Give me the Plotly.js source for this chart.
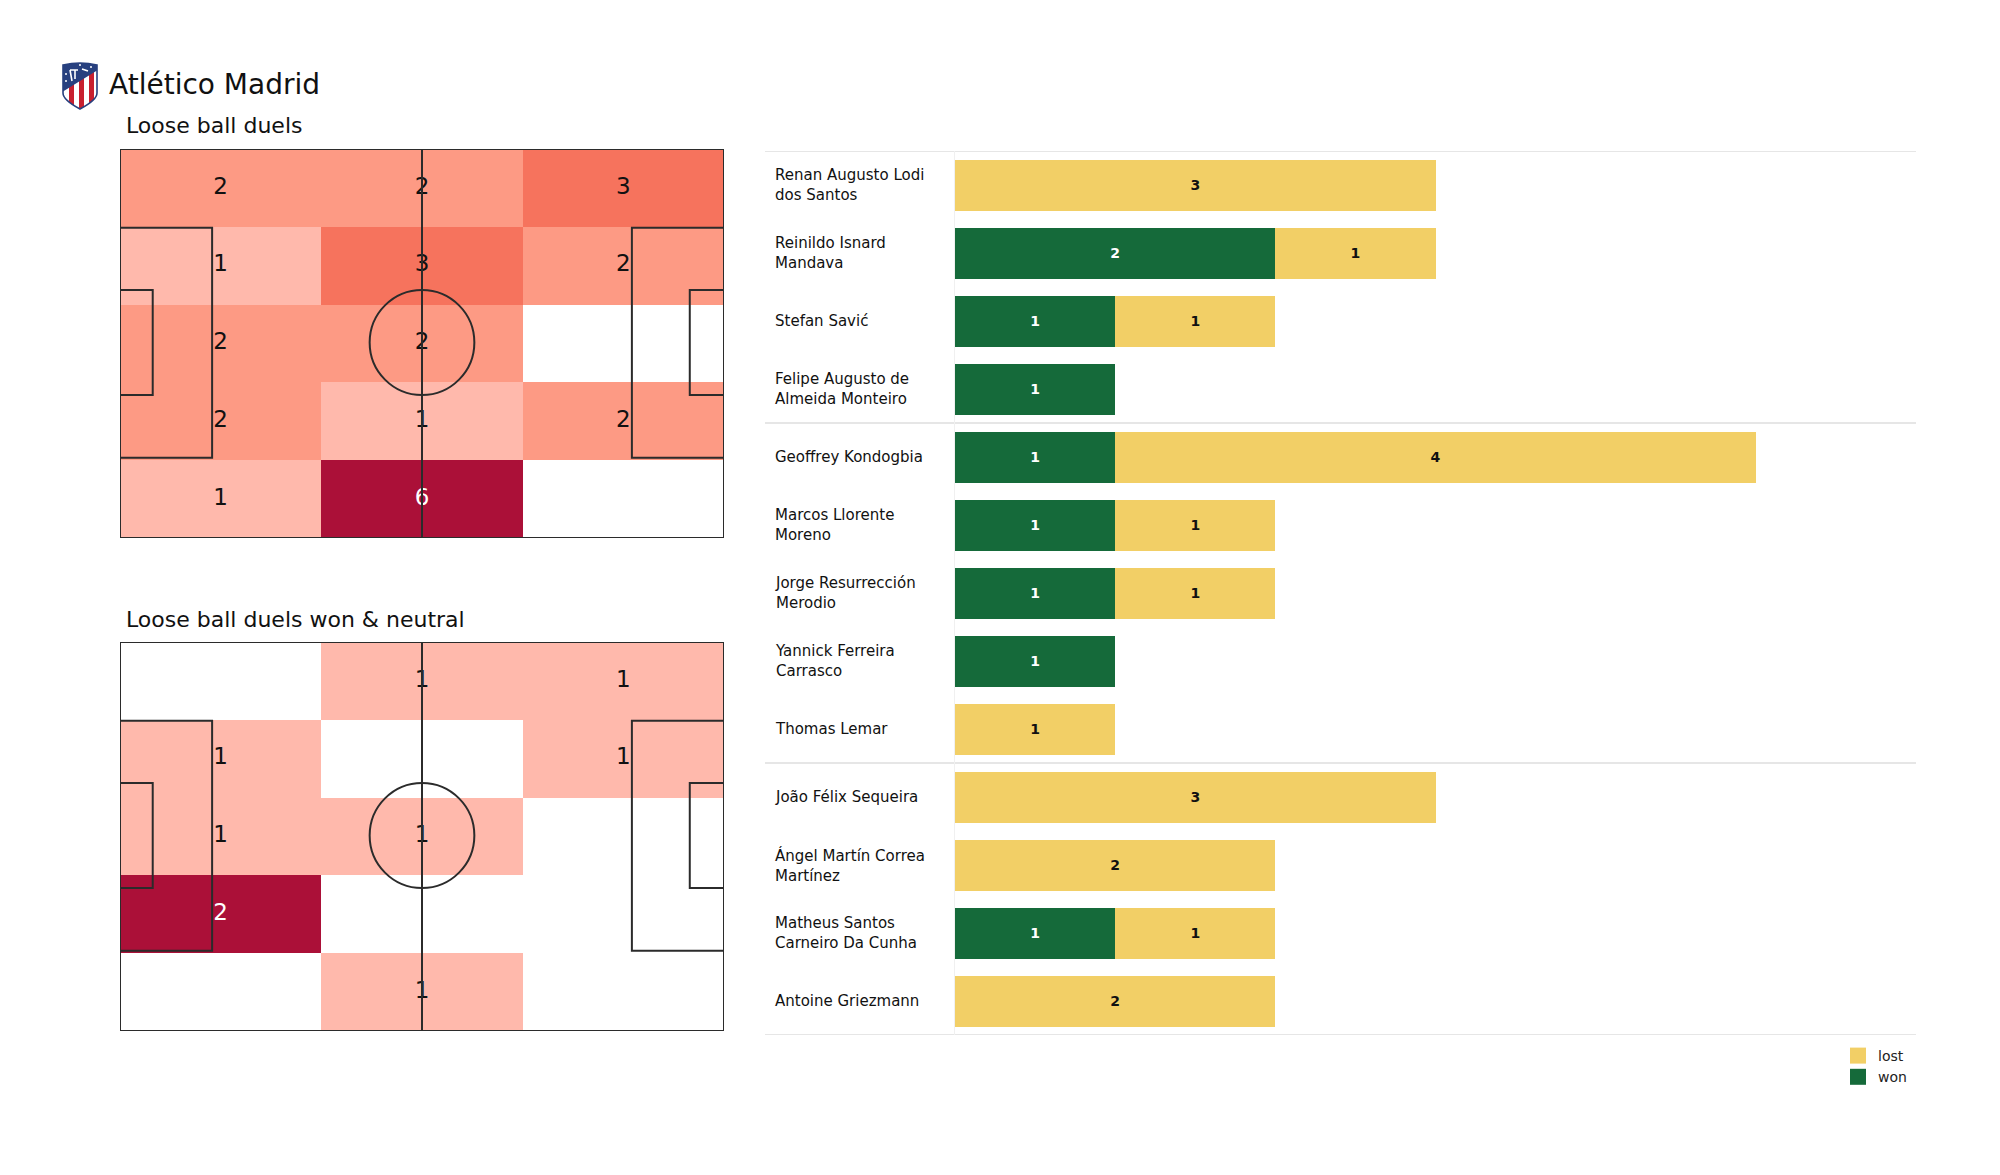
<!DOCTYPE html>
<html>
<head>
<meta charset="utf-8">
<script src="https://cdn.plot.ly/plotly-3.0.1.min.js"></script>
<style>html,body{margin:0;padding:0;background:#fff}#chart{width:2000px;height:1175px}</style>
</head>
<body>
<div id="chart"></div>
<script>
// ---------- data ----------
const teamName = "Atlético Madrid";
const pitchTitleAll = "Loose ball duels";
const pitchTitleWon = "Loose ball duels won & neutral";
const zoneX = [20, 60, 100];
const zoneY = [8, 24, 40, 56, 72];
const duelsAll = [[2,2,3],[1,3,2],[2,2,0],[2,1,2],[1,6,0]];
const duelsWon = [[0,1,1],[1,0,1],[1,1,0],[2,0,0],[0,1,0]];
const players = [
  "Renan Augusto Lodi<br>dos Santos","Reinildo Isnard<br>Mandava","Stefan Savić",
  "Felipe Augusto de<br>Almeida Monteiro","Geoffrey Kondogbia","Marcos Llorente<br>Moreno",
  "Jorge Resurrección<br>Merodio","Yannick Ferreira<br>Carrasco","Thomas Lemar",
  "João Félix Sequeira","Ángel Martín Correa<br>Martínez","Matheus Santos<br>Carneiro Da Cunha",
  "Antoine Griezmann"];
const won  = [0,2,1,1,1,1,1,1,0,0,0,1,0];
const lost = [3,1,1,0,4,1,1,0,1,3,2,1,2];
const groupBreaks = [3.5, 8.5];
// ---------- styles ----------
const wonColor = "#156a3a", lostColor = "#f2cf66";
const scaleAll = [[0,"#ffffff"],[1/6,"#ffb9ac"],[2/6,"#fd9a84"],[3/6,"#f6735d"],[1,"#ab1038"]];
const scaleWon = [[0,"#ffffff"],[0.5,"#ffb9ac"],[1,"#ab1038"]];
const FONT = "DejaVu Sans, sans-serif";
const W = 2000, H = 1175;
const px = v => v / W, py = v => 1 - v / H;

const crest = `<svg xmlns="http://www.w3.org/2000/svg" viewBox="0 0 36 48">
<defs><clipPath id="c"><path d="M1 3Q18 -1 35 3L35 31Q35 38 18 47Q1 38 1 31Z"/></clipPath></defs>
<g clip-path="url(#c)"><rect width="36" height="48" fill="#ffffff"/>
<rect x="7" width="5" height="48" fill="#c8202f"/><rect x="17" width="5" height="48" fill="#c8202f"/><rect x="27" width="5" height="48" fill="#c8202f"/>
<path d="M0 0H36V8L0 30Z" fill="#27407f"/>
<path d="M8 8L10 19M8 8H16M13 8V17M20 7L26 9" stroke="#fff" stroke-width="1.6" fill="none"/>
<circle cx="4" cy="12" r="1" fill="#fff"/><circle cx="4" cy="19" r="1" fill="#fff"/><circle cx="29" cy="5" r="1" fill="#fff"/><circle cx="18" cy="3" r="1" fill="#fff"/>
</g><path d="M1 3Q18 -1 35 3L35 31Q35 38 18 47Q1 38 1 31Z" fill="none" stroke="#27407f" stroke-width="1.6"/></svg>`;

function heatTraces(z, scale, zmax, xa, ya) {
  const tx = [], ty = [], tt = [], tc = [];
  z.forEach((row, r) => row.forEach((v, c) => {
    if (v > 0) { tx.push(zoneX[c]); ty.push(zoneY[r]); tt.push(String(v)); tc.push(v === zmax ? "#ffffff" : "#111111"); }
  }));
  return [
    {type:"heatmap", x:zoneX, y:zoneY, z:z, zmin:0, zmax:zmax, colorscale:scale, showscale:false, xaxis:xa, yaxis:ya, hoverinfo:"z"},
    {type:"scatter", mode:"text", x:tx, y:ty, text:tt, textposition:"middle center",
     textfont:{family:FONT, size:23, color:tc}, showlegend:false, xaxis:xa, yaxis:ya, hoverinfo:"skip"}
  ];
}
function pitchShapes(xr, yr) {
  const line = {color:"#2b2b2b", width:2};
  const rect = (x0,x1,y0,y1) => ({type:"rect", xref:xr, yref:yr, x0,x1,y0,y1, line, layer:"above", fillcolor:"rgba(0,0,0,0)"});
  return [
    rect(0,120,0,80), rect(0,18.3,16.2,63.5), rect(0,6.5,29,50.6),
    rect(101.7,120,16.2,63.5), rect(113.2,120,29,50.6),
    {type:"line", xref:xr, yref:yr, x0:60,x1:60,y0:0,y1:80, line, layer:"above"},
    {type:"circle", xref:xr, yref:yr, x0:49.6,x1:70.4,y0:29,y1:50.6, line, layer:"above"}
  ];
}
const ids = players.map((_, i) => i);
const barBase = {type:"bar", orientation:"h", y:ids, width:0.75, xaxis:"x3", yaxis:"y3",
  textposition:"inside", insidetextanchor:"middle", textangle:0, constraintext:"none", showlegend:false, hoverinfo:"x+name"};
const traces = [
  ...heatTraces(duelsAll, scaleAll, 6, "x", "y"),
  ...heatTraces(duelsWon, scaleWon, 2, "x2", "y2"),
  {...barBase, name:"won", x:won, text:won.map(v => v ? String(v) : ""), marker:{color:wonColor},
   insidetextfont:{family:FONT, size:14, color:"#ffffff", weight:700}},
  {...barBase, name:"lost", x:lost, text:lost.map(v => v ? String(v) : ""), marker:{color:lostColor},
   insidetextfont:{family:FONT, size:14, color:"#111111", weight:700}},
  {type:"scatter", mode:"markers", name:"won", x:[null], y:[null], xaxis:"x3", yaxis:"y3", marker:{symbol:"square", size:16, color:wonColor}},
  {type:"scatter", mode:"markers", name:"lost", x:[null], y:[null], xaxis:"x3", yaxis:"y3", marker:{symbol:"square", size:16, color:lostColor}}
];
const hidden = {visible:false, fixedrange:true};
const sep = y => ({type:"line", xref:"paper", yref:"y3", x0:px(765), x1:px(1916), y0:y, y1:y, line:{color:"#dedede", width:1.5}, layer:"below"});
const annotations = [
  {xref:"paper", yref:"paper", x:px(124), y:py(125), xanchor:"left", yanchor:"middle", showarrow:false, text:pitchTitleAll, font:{family:FONT, size:22, color:"#111"}},
  {xref:"paper", yref:"paper", x:px(124), y:py(619), xanchor:"left", yanchor:"middle", showarrow:false, text:pitchTitleWon, font:{family:FONT, size:22, color:"#111"}},
  ...players.map((p, i) => ({xref:"paper", yref:"y3", x:px(773), y:i, xanchor:"left", yanchor:"middle", align:"left", showarrow:false,
    text:p, font:{family:FONT, size:15, color:"#111"}}))
];
const layout = {
  width:W, height:H, margin:{l:0,r:0,t:0,b:0}, paper_bgcolor:"#fff", plot_bgcolor:"rgba(0,0,0,0)",
  font:{family:FONT},
  title:{text:teamName, x:px(109), xanchor:"left", xref:"paper", y:py(84), yanchor:"middle", yref:"paper", font:{family:FONT, size:28, color:"#111"}},
  barmode:"stack", bargap:0.25,
  xaxis:{...hidden, domain:[px(120),px(724)], range:[0,120], anchor:"y"},
  yaxis:{...hidden, domain:[py(538),py(149)], range:[80,0], anchor:"x"},
  xaxis2:{...hidden, domain:[px(120),px(724)], range:[0,120], anchor:"y2"},
  yaxis2:{...hidden, domain:[py(1031),py(642)], range:[80,0], anchor:"x2"},
  xaxis3:{...hidden, domain:[px(955),px(1916)], range:[0,6], anchor:"y3"},
  yaxis3:{visible:true, fixedrange:true, showticklabels:false, ticks:"", showgrid:false, zeroline:false, showline:true, linecolor:"#f0f0f0", linewidth:1,
          domain:[py(1035),py(151)], range:[12.5,-0.5], anchor:"x3"},
  shapes:[...pitchShapes("x","y"), ...pitchShapes("x2","y2"), sep(-0.5), ...groupBreaks.map(sep), sep(12.5)],
  annotations,
  images:[{source:"data:image/svg+xml;base64,"+btoa(crest), xref:"paper", yref:"paper", x:px(61), y:py(62), sizex:px(38)-0, sizey:48/H, xanchor:"left", yanchor:"top", sizing:"contain", layer:"above"}],
  showlegend:true,
  legend:{x:px(1838), y:py(1040), xanchor:"left", yanchor:"top", traceorder:"reversed", bgcolor:"rgba(0,0,0,0)", borderwidth:0,
          font:{family:FONT, size:14, color:"#222"}, itemclick:false, itemdoubleclick:false, tracegroupgap:0}
};
Plotly.newPlot("chart", traces, layout, {displayModeBar:false, responsive:false});
</script>
</body>
</html>
